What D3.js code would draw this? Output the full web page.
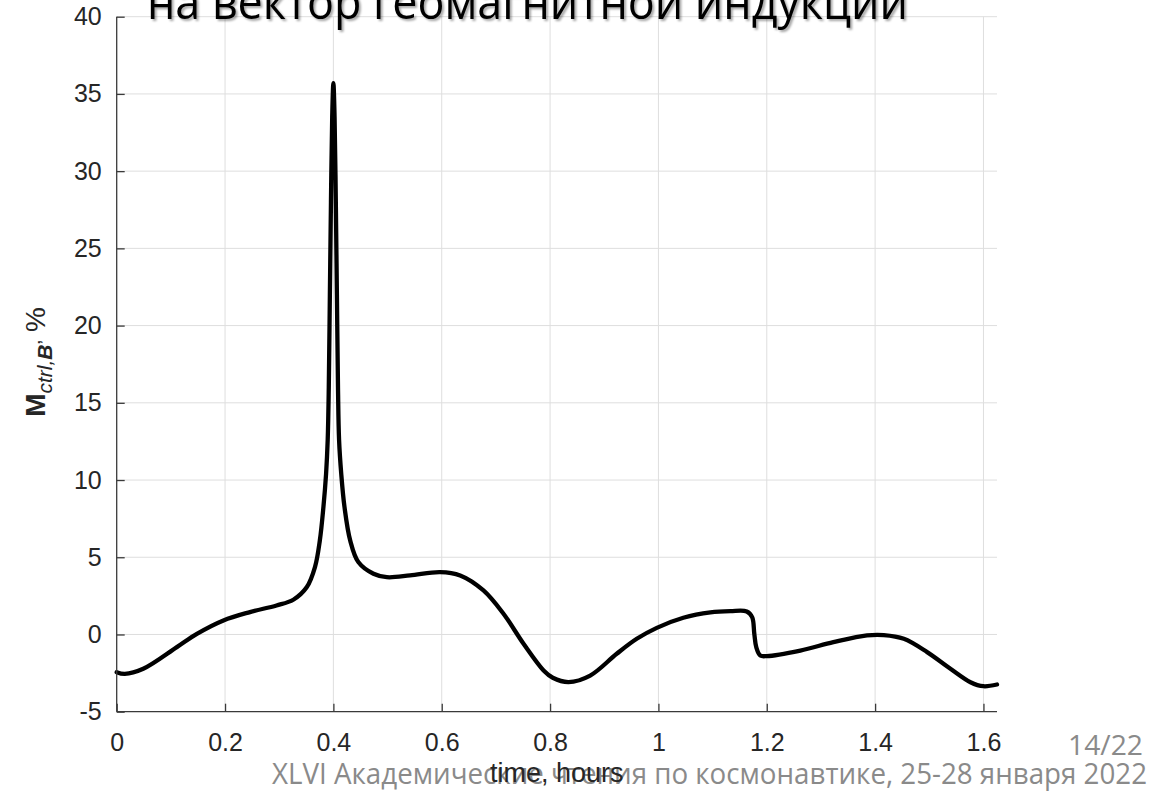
<!DOCTYPE html>
<html>
<head>
<meta charset="utf-8">
<script src="https://cdn.jsdelivr.net/npm/d3@7"></script>
<style>
  html, body { margin: 0; padding: 0; background: #fff; }
  svg { display: block; }
</style>
</head>
<body>
<svg id="chart" width="1168" height="797"></svg>
<script>
// Control moment share relative to the geomagnetic induction vector, %
const timeHours = [
  0.000, 0.015, 0.049, 0.111, 0.148, 0.197, 0.246, 0.295, 0.326, 0.351,
  0.366, 0.375, 0.3816, 0.3865, 0.3895, 0.3915, 0.3935, 0.3955, 0.3978, 0.400,
  0.4022, 0.4045, 0.4065, 0.4085, 0.4105, 0.4145, 0.4205, 0.431, 0.446, 0.474,
  0.4986, 0.5416, 0.597, 0.634, 0.677, 0.714, 0.751, 0.788, 0.805, 0.834,
  0.874, 0.923, 0.960, 0.997, 1.046, 1.096, 1.133, 1.163, 1.173, 1.177,
  1.1806, 1.188, 1.200, 1.262, 1.323, 1.385, 1.416, 1.453, 1.496, 1.539,
  1.576, 1.600, 1.625
];
const ctrlPercent = [
  -2.44, -2.55, -2.22, -0.82, 0.04, 0.91, 1.45, 1.88, 2.25, 3.07,
  4.36, 6.09, 8.25, 10.4, 12.6, 16.0, 22.0, 28.0, 33.5, 35.7,
  33.5, 28.0, 22.0, 16.0, 12.6, 10.4, 8.25, 6.09, 4.69, 3.93,
  3.71, 3.82, 4.04, 3.82, 2.85, 1.34, -0.60, -2.33, -2.80, -3.08,
  -2.66, -1.25, -0.28, 0.43, 1.08, 1.43, 1.51, 1.49, 1.12, 0.04,
  -0.82, -1.36, -1.40, -1.04, -0.50, -0.06, -0.04, -0.28, -1.14, -2.22,
  -3.09, -3.35, -3.24
];
const xTicks = [0, 0.2, 0.4, 0.6, 0.8, 1, 1.2, 1.4, 1.6];
const yTicks = [-5, 0, 5, 10, 15, 20, 25, 30, 35, 40];
const xDomain = [0, 1.625];
const yDomain = [-5, 40];

const svg = d3.select("#chart");
const plot = { left: 116.7, right: 997, top: 16.7, bottom: 711.7 };

const x = d3.scaleLinear().domain(xDomain).range([plot.left, plot.right]);
const y = d3.scaleLinear().domain(yDomain).range([plot.bottom, plot.top]);

svg.append("rect").attr("width", 1168).attr("height", 797).attr("fill", "#fff");

// grid
const grid = svg.append("g").attr("stroke", "#dedede").attr("stroke-width", 1);
grid.selectAll("line.vx").data(xTicks.filter(d => d > 0)).join("line")
  .attr("x1", d => x(d)).attr("x2", d => x(d))
  .attr("y1", plot.top).attr("y2", plot.bottom);
grid.selectAll("line.hy").data(yTicks.filter(d => d > yDomain[0])).join("line")
  .attr("x1", plot.left).attr("x2", plot.right)
  .attr("y1", d => y(d)).attr("y2", d => y(d));

// footer
const footer = svg.append("g").attr("fill", "#8a8a8a")
  .attr("font-family", "'Open Sans', 'Noto Sans', sans-serif");
footer.append("text")
  .attr("x", 272).attr("y", 784)
  .attr("font-size", 30)
  .attr("textLength", 875).attr("lengthAdjust", "spacingAndGlyphs")
  .text("XLVI Академические чтения по космонавтике, 25-28 января 2022");
footer.append("text")
  .attr("x", 1068).attr("y", 755)
  .attr("font-size", 28)
  .attr("textLength", 75).attr("lengthAdjust", "spacingAndGlyphs")
  .text("14/22");

// curve
const line = d3.line()
  .x((d, i) => x(timeHours[i]))
  .y(d => y(d))
  .curve(d3.curveCatmullRom.alpha(0.5));
svg.append("path")
  .datum(ctrlPercent)
  .attr("fill", "none")
  .attr("stroke", "#000")
  .attr("stroke-width", 4.3)
  .attr("stroke-linejoin", "round")
  .attr("stroke-linecap", "round")
  .attr("d", line);

// axes (plain hyphen for negative labels)
const fmt = d => String(d);
const xAxis = svg.append("g")
  .attr("transform", `translate(0,${plot.bottom})`)
  .call(d3.axisBottom(x).tickValues(xTicks).tickFormat(fmt)
    .tickSizeInner(-8).tickSizeOuter(0).tickPadding(22));
const yAxis = svg.append("g")
  .attr("transform", `translate(${plot.left},0)`)
  .call(d3.axisLeft(y).tickValues(yTicks).tickFormat(fmt)
    .tickSizeInner(-8).tickSizeOuter(0).tickPadding(15));

[xAxis, yAxis].forEach(g => {
  g.select(".domain").attr("stroke", "#3a3a3a").attr("stroke-width", 1.3);
  g.selectAll(".tick line").attr("stroke", "#3a3a3a").attr("stroke-width", 1.3);
  g.selectAll(".tick text")
    .attr("fill", "#262626")
    .attr("font-family", "'Liberation Sans', Arial, sans-serif")
    .attr("font-size", 25);
});
xAxis.select(".domain").attr("d", `M${plot.left},0H${plot.right}`);
yAxis.select(".domain").attr("d", `M0,${plot.bottom}V${plot.top}`);

// y label
const yl = svg.append("text")
  .attr("transform", `translate(45,362) rotate(-90)`)
  .attr("text-anchor", "middle")
  .attr("fill", "#262626")
  .attr("font-family", "'Liberation Sans', Arial, sans-serif")
  .attr("font-size", 28);
yl.append("tspan").attr("font-weight", "bold").text("M");
yl.append("tspan").attr("font-style", "italic").attr("font-size", 21).attr("dy", 7).text("ctrl,");
yl.append("tspan").attr("font-style", "italic").attr("font-weight", "bold").attr("font-size", 21).text("B");
yl.append("tspan").attr("font-size", 21).text("’");
yl.append("tspan").attr("dy", -7).text(" %");

// x label
svg.append("text")
  .attr("x", (plot.left + plot.right) / 2).attr("y", 782)
  .attr("text-anchor", "middle")
  .attr("fill", "#262626")
  .attr("font-family", "'Liberation Sans', Arial, sans-serif")
  .attr("font-size", 27)
  .text("time, hours");

// slide title (bottom line, clipped by the page top)
const defs = svg.append("defs");
const shadow = defs.append("filter").attr("id", "titleShadow")
  .attr("x", "-5%").attr("y", "-50%").attr("width", "110%").attr("height", "200%");
shadow.append("feDropShadow")
  .attr("dx", 2).attr("dy", 2).attr("stdDeviation", 1.2)
  .attr("flood-color", "#000").attr("flood-opacity", 0.35);
svg.append("text")
  .attr("x", 147).attr("y", 19)
  .attr("font-family", "'Open Sans', 'Noto Sans', sans-serif")
  .attr("font-size", 48)
  .attr("fill", "#000")
  .attr("filter", "url(#titleShadow)")
  .attr("textLength", 761).attr("lengthAdjust", "spacingAndGlyphs")
  .text("на вектор геомагнитной индукции");
</script>
</body>
</html>
